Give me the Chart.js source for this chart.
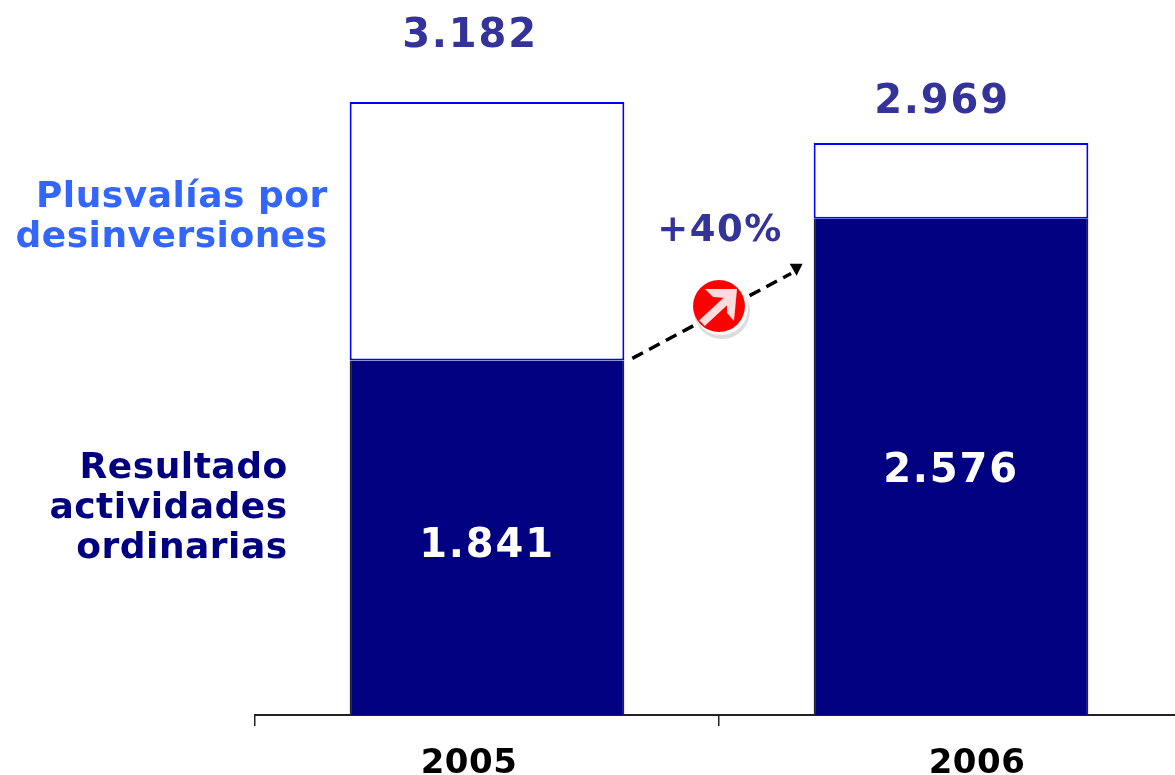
<!DOCTYPE html>
<html>
<head>
<meta charset="utf-8">
<title>Resultado</title>
<script src="https://cdn.jsdelivr.net/npm/chart.js@4"></script>
<style>
    html, body { margin: 0; padding: 0; background: #fff; overflow: hidden; }
    #wrap { position: absolute; left: 0; top: 0; width: 1190px; height: 775px; }
</style>
</head>
<body>
<div id="wrap"><canvas id="chart" width="1190" height="775"></canvas></div>
<script>
const years = ['2005', '2006'];
const ordinarias = [1841, 2576];
const plusvalias = [1341, 393];
const totales = [3182, 2969];
const nameOrdinarias = ['Resultado', 'actividades', 'ordinarias'];
const namePlusvalias = ['Plusvalías por', 'desinversiones'];
const growth = '+40%';

const FONT = '"DejaVu Sans", Verdana, sans-serif';

function fmt(v) {
    return String(v).replace(/\B(?=(\d{3})+$)/g, '.');
}

function text(ctx, str, x, y, size, color, align) {
    ctx.font = 'bold ' + size + 'px ' + FONT;
    ctx.fillStyle = color;
    ctx.textAlign = align || 'center';
    ctx.textBaseline = 'middle';
    ctx.fillText(str, x, y);
}

// labels and the arrow sit off-centre in the original, so they are drawn here
const annotations = {
    id: 'annotations',
    afterDraw(chart) {
        const ctx = chart.ctx;
        const x = chart.scales.x;
        const y = chart.scales.y;
        const barLeft = chart.getDatasetMeta(0).data.map(b => b.x - b.width / 2);
        const barRight = chart.getDatasetMeta(0).data.map(b => b.x + b.width / 2);
        ctx.save();
        ctx.letterSpacing = '1.8px';

        // totals above the bars
        text(ctx, fmt(totales[0]), x.getPixelForValue(0) - 17, y.getPixelForValue(totales[0]) - 65, 40, '#333399');
        text(ctx, fmt(totales[1]), x.getPixelForValue(1) - 9, y.getPixelForValue(totales[1]) - 41, 40, '#333399');

        // values inside the navy segments
        text(ctx, fmt(ordinarias[0]), x.getPixelForValue(0), y.getPixelForValue(ordinarias[0] / 2) + 9, 40, '#ffffff');
        text(ctx, fmt(ordinarias[1]), x.getPixelForValue(1), y.getPixelForValue(ordinarias[1] / 2) + 5, 40, '#ffffff');

        // year labels
        ctx.letterSpacing = '0.5px';
        text(ctx, years[0], x.getPixelForValue(0) - 18, 764, 34, '#000000');
        text(ctx, years[1], x.getPixelForValue(1) + 26, 764, 34, '#000000');

        // series names left of the first bar
        namePlusvalias.forEach((s, i) => {
            text(ctx, s, barLeft[0] - 22, 198 + i * 40, 36, '#3366ff', 'right');
        });
        nameOrdinarias.forEach((s, i) => {
            text(ctx, s, barLeft[0] - 62, 469 + i * 40, 36, '#000080', 'right');
        });

        // dashed growth arrow between the two navy segments
        const x0 = barRight[0] + 8;
        const y0 = y.getPixelForValue(ordinarias[0]) - 2;
        const x1 = barLeft[1] - 12;
        const y1 = y.getPixelForValue(ordinarias[1]) + 49;
        const ang = Math.atan2(y1 - y0, x1 - x0);
        ctx.strokeStyle = '#000000';
        ctx.lineWidth = 3.5;
        ctx.setLineDash([12, 7]);
        ctx.beginPath();
        ctx.moveTo(x0, y0);
        ctx.lineTo(x1 - 12 * Math.cos(ang), y1 - 12 * Math.sin(ang));
        ctx.stroke();
        ctx.setLineDash([]);
        ctx.fillStyle = '#000000';
        ctx.beginPath();
        ctx.moveTo(x1 + 1, y1 - 4);
        ctx.lineTo(x1 - 12, y1 - 4);
        ctx.lineTo(x1 - 5, y1 + 8);
        ctx.closePath();
        ctx.fill();

        // red badge with white arrow
        const cx = x.getPixelForValue(0.5) + 1;
        const cy = (y0 + y1) / 2 - 6;
        ctx.fillStyle = '#dddddd';
        ctx.beginPath();
        ctx.arc(cx + 2, cy + 4, 28, 0, Math.PI * 2);
        ctx.fill();
        ctx.fillStyle = '#ffffff';
        ctx.beginPath();
        ctx.arc(cx + 1, cy + 1, 27, 0, Math.PI * 2);
        ctx.fill();
        ctx.fillStyle = '#ff0000';
        ctx.beginPath();
        ctx.arc(cx - 1, cy - 1, 26, 0, Math.PI * 2);
        ctx.fill();
        ctx.strokeStyle = '#ffdcdc';
        ctx.lineWidth = 8;
        ctx.beginPath();
        ctx.moveTo(cx - 18, cy + 16);
        ctx.lineTo(cx + 10, cy - 10);
        ctx.stroke();
        ctx.fillStyle = '#ffdcdc';
        ctx.beginPath();
        ctx.moveTo(cx - 15, cy - 18);
        ctx.lineTo(cx + 17, cy - 18);
        ctx.lineTo(cx + 14, cy + 14);
        ctx.lineTo(cx + 7, cy + 6);
        ctx.lineTo(cx + 7, cy - 9);
        ctx.lineTo(cx - 7, cy - 10);
        ctx.closePath();
        ctx.fill();

        // growth label
        ctx.letterSpacing = '1.5px';
        text(ctx, growth, cx, y1 - 36, 37, '#333399');
        ctx.restore();
    }
};

new Chart(document.getElementById('chart'), {
    type: 'bar',
    data: {
        labels: years,
        datasets: [
            {
                label: nameOrdinarias.join(' '),
                data: ordinarias,
                backgroundColor: '#000080',
                borderColor: '#20203a',
                borderWidth: { left: 1.5, right: 1.5, top: 0, bottom: 0 }
            },
            {
                // bottom edge kept so the blue line shows above the navy part
                label: namePlusvalias.join(' '),
                data: plusvalias,
                backgroundColor: '#ffffff',
                borderColor: '#0000ff',
                borderWidth: 2,
                borderSkipped: false
            }
        ]
    },
    options: {
        responsive: false,
        animation: false,
        layout: { padding: { left: 255, right: 7, top: 0, bottom: 0 } },
        datasets: { bar: { barPercentage: 0.592, categoryPercentage: 1 } },
        plugins: { legend: { display: false }, tooltip: { enabled: false } },
        scales: {
            x: {
                stacked: true,
                grid: {
                    offset: true,
                    drawOnChartArea: false,
                    color: '#222222',
                    lineWidth: 1.5,
                    tickLength: 11
                },
                border: { color: '#222222', width: 2 },
                ticks: { display: false },
                afterFit(scale) { scale.height = 60; }
            },
            y: {
                stacked: true,
                display: false,
                min: 0,
                max: 3712
            }
        }
    },
    plugins: [annotations]
});
</script>
</body>
</html>
